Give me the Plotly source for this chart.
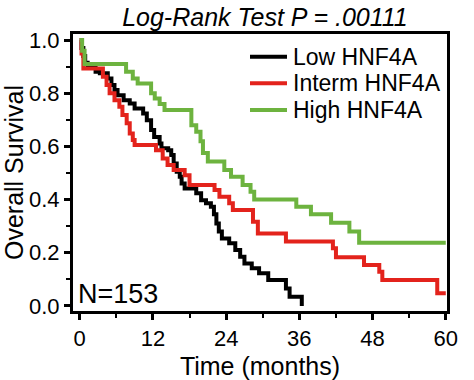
import plotly.graph_objects as go

# ---- data ----
series_names = ["Low HNF4A", "Interm HNF4A", "High HNF4A"]
series_colors = ["#000000", "#e3231c", "#6db33f"]

low_t = [0, 0.3, 0.6, 0.9, 1.3, 2.6, 3.3, 4.6, 5.2, 5.7, 6.2, 7.2, 8.2, 9.0, 10.4, 11.0,
         11.7, 12.2, 13.1, 13.4, 14.5, 15.0, 15.4, 15.9, 16.4, 16.7, 17.2, 19.1, 19.9,
         20.7, 21.5, 22.0, 22.4, 22.8, 23.3, 24.5, 25.5, 26.3, 27.0, 28.2, 29.4, 30.9,
         33.8, 34.4, 36.4]
low_s = [1.0, 0.97, 0.94, 0.915, 0.895, 0.881, 0.875, 0.856, 0.831, 0.812, 0.793, 0.774,
         0.762, 0.743, 0.724, 0.699, 0.662, 0.636, 0.611, 0.593, 0.586, 0.568, 0.536,
         0.505, 0.486, 0.461, 0.442, 0.424, 0.398, 0.386, 0.373, 0.345, 0.31, 0.28,
         0.254, 0.236, 0.21, 0.185, 0.16, 0.142, 0.123, 0.098, 0.066, 0.035, 0.0]

interm_t = [0, 0.3, 0.6, 3.8, 4.4, 4.9, 5.7, 6.5, 7.0, 7.7, 8.2, 8.7, 9.0, 12.5, 13.6,
            14.4, 15.4, 17.2, 18.0, 22.1, 22.9, 24.5, 25.1, 28.4, 29.2, 33.8, 41.5,
            42.0, 46.6, 49.1, 49.6, 58.6, 60.0]
interm_s = [1.0, 0.95, 0.893, 0.862, 0.831, 0.80, 0.774, 0.749, 0.718, 0.687, 0.649,
            0.624, 0.605, 0.586, 0.555, 0.53, 0.511, 0.492, 0.455, 0.436, 0.411, 0.386,
            0.361, 0.317, 0.273, 0.242, 0.217, 0.183, 0.154, 0.129, 0.098, 0.048, 0.048]

high_t = [0, 0.4, 0.8, 7.6, 8.7, 9.5, 11.7, 12.3, 13.1, 13.9, 18.3, 19.1, 19.8, 20.2,
          21.0, 23.7, 24.8, 26.7, 28.0, 28.6, 35.5, 37.9, 41.2, 44.2, 45.8, 60.0]
high_s = [1.0, 0.96, 0.91, 0.881, 0.856, 0.837, 0.80, 0.78, 0.76, 0.737, 0.68, 0.655,
          0.62, 0.575, 0.543, 0.511, 0.486, 0.455, 0.43, 0.40, 0.373, 0.345, 0.313,
          0.28, 0.238, 0.238]

x_ticks = [0, 12, 24, 36, 48, 60]
y_ticks = [0.0, 0.2, 0.4, 0.6, 0.8, 1.0]
title_text = "Log-Rank Test P = .00111"
n_label = "N=153"

FONT = "Liberation Sans, Arial, sans-serif"
L, R, T, B = 73, 27, 34, 69
PW, PH = 474 - L - R, 380 - T - B


def px_x(p):
    return (p - L) / PW


def px_y(p):
    return (380 - B - p) / PH


fig = go.Figure()
for name, t, s, c in zip(series_names, [low_t, interm_t, high_t],
                         [low_s, interm_s, high_s], series_colors):
    fig.add_trace(go.Scatter(x=t, y=s, mode="lines", name=name, showlegend=False,
                             line=dict(color=c, width=4, shape="hv")))

fig.update_layout(
    width=474, height=380,
    margin=dict(l=L, r=R, t=T, b=B, autoexpand=False),
    paper_bgcolor="white", plot_bgcolor="white",
    font=dict(family=FONT, color="black", size=22),
    title=dict(text="<i>" + title_text + "</i>", xref="container", x=0.559,
               xanchor="center", yref="container", y=0.955, yanchor="middle",
               font=dict(size=25, family=FONT, color="black")),
    showlegend=False,
)

fig.update_xaxes(
    range=[-1.1, 60.2], tickvals=x_ticks, ticktext=[str(v) for v in x_ticks],
    showline=True, linecolor="black", linewidth=3, mirror=True,
    ticks="outside", ticklen=6, tickwidth=2.5, tickcolor="black",
    minor=dict(dtick=6, tick0=0, ticks="outside", ticklen=4, tickwidth=2, tickcolor="black"),
    showgrid=False, zeroline=False, automargin=False,
    tickfont=dict(size=22),
    title=dict(text="Time (months)", font=dict(size=25)),
)
fig.update_yaxes(
    range=[-0.019, 1.023], tickvals=y_ticks, ticktext=["%.1f" % v for v in y_ticks],
    showline=True, linecolor="black", linewidth=3, mirror=True,
    ticks="outside", ticklen=6, tickwidth=2.5, tickcolor="black",
    minor=dict(dtick=0.1, tick0=0, ticks="outside", ticklen=4, tickwidth=2, tickcolor="black"),
    showgrid=False, zeroline=False, automargin=False,
    tickfont=dict(size=22),
    title=dict(text="Overall Survival", font=dict(size=25)),
)

# legend drawn as line samples + labels
legend_rows_px = [56.7, 83.3, 110.0]
for name, c, ypx in zip(series_names, series_colors, legend_rows_px):
    fig.add_shape(type="line", xref="paper", yref="paper",
                  x0=px_x(250), x1=px_x(287), y0=px_y(ypx), y1=px_y(ypx),
                  line=dict(color=c, width=4))
    fig.add_annotation(text=name, xref="paper", yref="paper", x=px_x(291), y=px_y(ypx),
                       xanchor="left", yanchor="middle", showarrow=False,
                       font=dict(size=23, family=FONT, color="black"))

fig.add_annotation(text=n_label, xref="paper", yref="paper", x=px_x(76), y=px_y(294),
                   xanchor="left", yanchor="middle", showarrow=False,
                   font=dict(size=27, family=FONT, color="black"))

# remove the default 8px page margin so the figure sits at the window's top-left
fig.write_html("out.html", config={"displayModeBar": False},
               post_script="document.body.style.margin='0px';")
